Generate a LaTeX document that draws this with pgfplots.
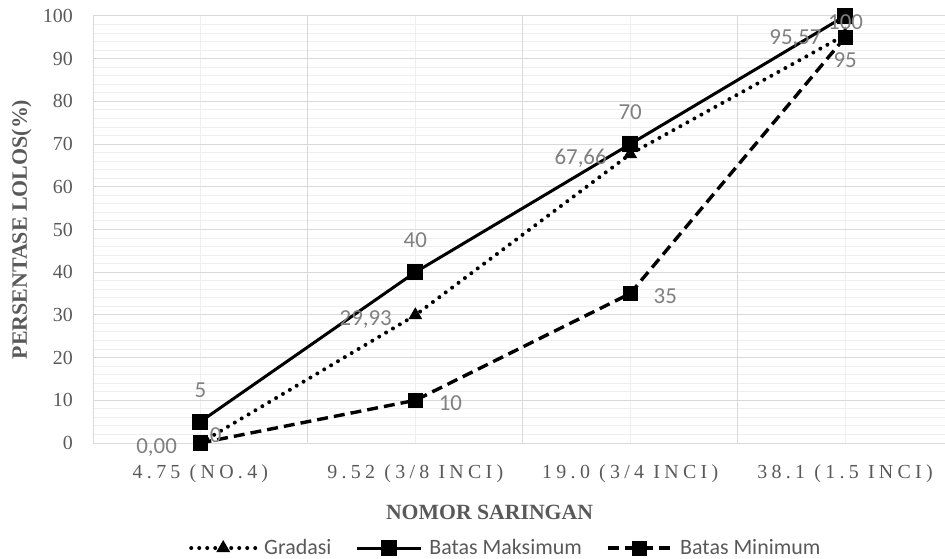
\documentclass[border=0pt]{standalone}
\usepackage{fontspec}
\setmainfont{Liberation Serif}
\newfontfamily\calibri{Carlito}
\usepackage{pgfplots}
\pgfplotsset{compat=1.18}
\usepackage{pgfplotstable}
\definecolor{tickgray}{HTML}{595959}
\definecolor{labgray}{HTML}{808080}
\definecolor{gridmajor}{HTML}{D9D9D9}
\definecolor{gridminor}{HTML}{EFEFEF}

\pgfplotstableread{
x y lab dx dy
0 0 0,00 -23 -10
1 29.93 29,93 -23 -10
2 67.66 67,66 -23 -10
3 95.57 95,57 -23 -10
}\gradasi
\pgfplotstableread{
x y lab dx dy
0 5 5 0 24.5
1 40 40 0 24.5
2 70 70 0 24.5
3 100 100 0.5 -14
}\maks
\pgfplotstableread{
x y lab dx dy
0 0 0 9 1
1 10 10 23 -10
2 35 35 23 -9.5
3 95 95 -12 -30.6
}\mins

\begin{document}
\begin{tikzpicture}
\begin{axis}[
  at={(93bp,116bp)}, anchor=south west,
  scale only axis, width=852bp, height=427bp,
  xmin=-0.5, xmax=3.465, ymin=0, ymax=100,
  clip=false,
  axis line style={draw=none},
  major tick length=0pt, minor tick length=0pt,
  xtick={0,1,2,3},
  xticklabels={4.75 (NO.4), 9.52 (3/8 INCI), 19.0 (3/4 INCI), 38.1 (1.5 INCI)},
  minor xtick={0,1,2,3},
  extra x ticks={-0.5,0.5,1.5,2.5},
  extra x tick labels={},
  extra x tick style={grid=major},
  ytick={0,10,...,100},
  minor y tick num=4,
  ymajorgrids, yminorgrids, xminorgrids,
  major grid style={draw=gridmajor, line width=1bp},
  minor grid style={draw=gridminor, line width=1bp},
  /pgf/number format/assume math mode=true,
  yticklabel style={font=\fontsize{20}{24}\selectfont, text=tickgray, anchor=east, inner sep=0pt, xshift=-20bp},
  xticklabel style={font=\fontsize{20}{24}\selectfont\addfontfeature{LetterSpace=21.5}, text=tickgray, anchor=base, inner sep=0pt, yshift=-35bp},
  xlabel={NOMOR SARINGAN},
  xlabel style={at={(axis description cs:0.4654,-0.178)}, anchor=base, font=\bfseries\fontsize{21.8}{25}\selectfont, text=tickgray, inner sep=0pt},
  ylabel={PERSENTASE LOLOS(\%)},
  ylabel style={at={(axis description cs:-0.0775,0.5)}, anchor=base, font=\bfseries\fontsize{22}{25}\selectfont, text=tickgray, inner sep=0pt},
  legend style={at={(axis description cs:0.1127,-0.246)}, anchor=west, draw=none, fill=none, inner sep=0pt,
    font=\calibri\fontsize{22}{26}\selectfont, text=tickgray,
    nodes={inner sep=0pt},
    /tikz/every odd column/.append style={column sep=7bp},
    /tikz/every even column/.append style={column sep=24bp}},
  legend columns=3,
  legend image code/.code={\draw[mark repeat=2,mark phase=2,#1] plot coordinates {(0bp,0bp) (32bp,0bp) (64bp,0bp)};},
  nodes near coords,
  point meta=explicit symbolic,
  visualization depends on={\thisrow{dx}\as\dx},
  visualization depends on={\thisrow{dy}\as\dy},
]
\addplot[black, line width=4bp, dash pattern=on 0bp off 8bp, line cap=round,
  mark=triangle*, mark size=7bp, mark options={solid, line width=1bp},
  every node near coord/.append style={font=\calibri\fontsize{23}{27}\selectfont, text=labgray, inner sep=0pt, anchor=base east, xshift=\dx bp, yshift=\dy bp}]
  table[x=x, y=y, meta=lab] {\gradasi};
\addlegendentry{Gradasi}
\addplot[black, line width=3bp,
  mark=square*, mark size=7.5bp, mark options={solid, line width=1bp},
  every node near coord/.append style={font=\calibri\fontsize{23}{27}\selectfont, text=labgray, inner sep=0pt, anchor=base, xshift=\dx bp, yshift=\dy bp}]
  table[x=x, y=y, meta=lab] {\maks};
\addlegendentry{Batas Maksimum}
\addplot[black, line width=3.4bp, dash pattern=on 11bp off 6bp,
  mark=square*, mark size=7bp, mark options={solid, line width=1bp},
  every node near coord/.append style={font=\calibri\fontsize{23}{27}\selectfont, text=labgray, inner sep=0pt, anchor=base west, xshift=\dx bp, yshift=\dy bp}]
  table[x=x, y=y, meta=lab] {\mins};
\addlegendentry{Batas Minimum}
\end{axis}
\pgfresetboundingbox
\path (0,0) rectangle (945bp,559bp);
\end{tikzpicture}
\end{document}
